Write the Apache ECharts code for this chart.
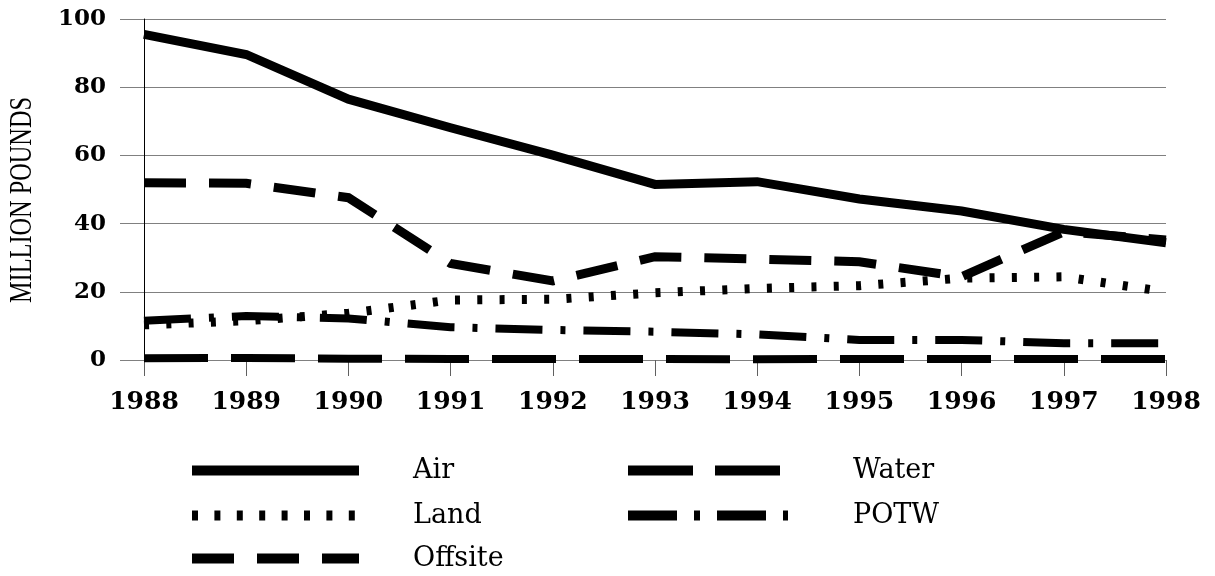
<!DOCTYPE html>
<html>
<head>
<meta charset="utf-8">
<script src="https://cdn.jsdelivr.net/npm/echarts@6/dist/echarts.min.js"></script>
<style>
  html, body { margin: 0; padding: 0; background: #fff; }
  #chart { width: 1215px; height: 576px; }
</style>
</head>
<body>
<div id="chart"></div>
<script>
// years on the x axis
var years = ['1988', '1989', '1990', '1991', '1992', '1993', '1994', '1995', '1996', '1997', '1998']
// million pounds
var air = [95.5, 89.6, 76.5, 68.1, 60.1, 51.5, 52.3, 47.2, 43.7, 38.3, 34.4]
var water = [0.5, 0.6, 0.4, 0.3, 0.3, 0.3, 0.2, 0.3, 0.3, 0.3, 0.3]
var land = [10.3, 11.5, 13.7, 17.6, 17.8, 19.7, 21.0, 21.8, 24.0, 24.4, 20.0]
var potw = [11.5, 12.9, 12.2, 9.6, 8.8, 8.3, 7.5, 5.9, 5.9, 4.9, 4.9]
var offsite = [52.0, 51.8, 47.6, 28.3, 23.2, 30.3, 29.6, 28.8, 24.4, 37.6, 35.2]

var chart = echarts.init(document.getElementById('chart'))

function line(name, data, width, dash) {
  return {
    name: name,
    type: 'line',
    data: data,
    symbol: 'none',
    animation: false,
    itemStyle: { color: '#000' },
    lineStyle: {
      color: '#000',
      width: width,
      type: dash,
      cap: 'butt',
      join: 'miter'
    }
  }
}

// one legend per item so the two-column layout matches
function legendItem(name, left, top, w, dash, pad) {
  return {
    data: [name],
    left: left,
    top: top,
    padding: 0,
    itemWidth: w,
    itemHeight: 14,
    selectedMode: false,
    itemStyle: { opacity: 0 },
    lineStyle: { width: 10, type: dash, cap: 'butt', color: '#000' },
    textStyle: {
      fontFamily: 'DejaVu Serif',
      fontSize: 27,
      color: '#000',
      padding: [0, 0, 0, pad]
    }
  }
}

chart.setOption({
  backgroundColor: '#fff',
  grid: {
    left: 144,
    right: 49,
    top: 19,
    bottom: 216
  },
  xAxis: {
    type: 'category',
    data: years,
    boundaryGap: false,
    axisLine: { lineStyle: { color: '#808080', width: 1 } },
    axisTick: { length: 16, lineStyle: { color: '#606060' } },
    axisLabel: {
      margin: 30,
      color: '#000',
      fontFamily: 'DejaVu Serif',
      fontWeight: 'bold',
      fontSize: 25
    }
  },
  yAxis: {
    type: 'value',
    min: 0,
    max: 100,
    interval: 20,
    axisLine: { show: true, lineStyle: { color: '#000', width: 1 } },
    axisTick: { show: true, length: 24, lineStyle: { color: '#808080' } },
    splitLine: { lineStyle: { color: '#808080', width: 1 } },
    axisLabel: {
      margin: 38,
      color: '#000',
      fontFamily: 'DejaVu Serif',
      fontWeight: 'bold',
      fontSize: 23
    }
  },
  legend: [
    legendItem('Air', 187, 457, 167, 'solid', 49),
    legendItem('Land', 187, 502, 163, [6, 16.4], 53),
    legendItem('Offsite', 187, 545, 167, [42, 23], 49),
    legendItem('Water', 623, 457, 152, [65, 22], 68),
    legendItem('POTW', 623, 502, 160, [49, 17, 6, 17], 60)
  ],
  graphic: [
    {
      type: 'text',
      x: 23,
      y: 200,
      rotation: Math.PI / 2,
      scaleX: 0.76,
      style: {
        text: 'MILLION POUNDS',
        fontFamily: 'Liberation Serif',
        fontSize: 32,
        fill: '#000',
        align: 'center',
        verticalAlign: 'middle'
      }
    }
  ],
  series: [
    line('Water', water, 8, [64, 23]),
    line('POTW', potw, 8, [47, 18, 5, 18]),
    line('Land', land, 9, [5, 17.3]),
    line('Offsite', offsite, 9, [42, 23]),
    line('Air', air, 9, 'solid')
  ]
})
</script>
</body>
</html>
